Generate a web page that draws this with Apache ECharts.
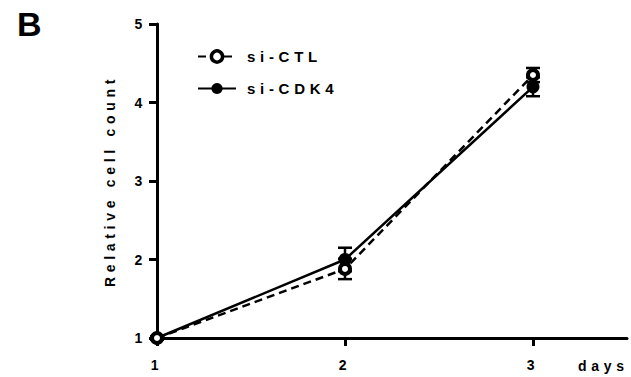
<!DOCTYPE html>
<html><head><meta charset="utf-8">
<script src="https://cdn.jsdelivr.net/npm/echarts@6/dist/echarts.min.js"></script>
<style>
html,body{margin:0;padding:0;background:#fff}
#c{width:631px;height:377px}
#c text{letter-spacing:4.7px}
</style>
</head><body><div id="c"></div>
<script>
// ---- data ----
const days = [1, 2, 3];
const xTicks = [1, 2, 3];
const yTicks = [1, 2, 3, 4, 5];
const ctlMean = [1.0, 1.88, 4.35];
const ctlErr  = [0.02, 0.13, 0.09];
const cdkMean = [1.0, 2.0, 4.2];
const cdkErr  = [0.02, 0.15, 0.12];
const seriesNames = ['si-CTL', 'si-CDK4'];

const FONT = 'Liberation Sans, Arial, sans-serif';
const chart = echarts.init(document.getElementById('c'), null, {renderer: 'svg'});

function errRender(params, api) {
  const x = api.value(0), m = api.value(1), e = api.value(2);
  const hi = api.coord([x, m + e]), lo = api.coord([x, m - e]);
  const w = 7;
  const st = {stroke: '#000', lineWidth: 2.5};
  return {type: 'group', children: [
    {type: 'line', shape: {x1: hi[0], y1: hi[1], x2: lo[0], y2: lo[1]}, style: st},
    {type: 'line', shape: {x1: hi[0] - w, y1: hi[1], x2: hi[0] + w, y2: hi[1]}, style: st},
    {type: 'line', shape: {x1: lo[0] - w, y1: lo[1], x2: lo[0] + w, y2: lo[1]}, style: st}
  ]};
}

chart.setOption({
  animation: false,
  backgroundColor: '#fff',
  grid: {left: 157, right: 4, top: 24, bottom: 39, containLabel: false},
  legend: {
    orient: 'vertical', left: 192, top: 44,
    itemWidth: 38, itemHeight: 14, itemGap: 17,
    data: [
      {name: seriesNames[0], itemStyle: {color: '#fff', borderColor: '#000', borderWidth: 3.5}},
      {name: seriesNames[1]}
    ],
    textStyle: {fontSize: 15, fontWeight: 'bold', fontFamily: FONT, color: '#000', padding: [0, 0, 0, 6]}
  },
  graphic: [
    {type: 'text', left: 17, top: 7, style: {text: 'B', font: 'bold 34px ' + FONT, fill: '#000'}},
    {type: 'text', left: 578, top: 359, style: {text: 'days', font: 'bold 14px ' + FONT, fill: '#000'}}
  ],
  xAxis: {
    type: 'value', min: 1, max: 3.5,
    axisLine: {show: true, lineStyle: {color: '#000', width: 3}},
    axisTick: {show: true, length: 8, lineStyle: {color: '#000', width: 3}, customValues: xTicks},
    axisLabel: {customValues: xTicks, margin: 20, fontSize: 14, fontWeight: 'bold', fontFamily: FONT, color: '#000'},
    splitLine: {show: false}
  },
  yAxis: {
    type: 'value', min: 1, max: 5, interval: 1,
    name: 'Relative cell count', nameLocation: 'middle', nameGap: 40, nameRotate: 90,
    nameTextStyle: {fontSize: 14, fontWeight: 'bold', fontFamily: FONT, color: '#000'},
    axisLine: {show: true, lineStyle: {color: '#000', width: 3}},
    axisTick: {show: true, length: 8, lineStyle: {color: '#000', width: 3}},
    axisLabel: {customValues: yTicks, margin: 10, fontSize: 14, fontWeight: 'bold', fontFamily: FONT, color: '#000'},
    splitLine: {show: false}
  },
  series: [
    {type: 'custom', name: 'si-CDK4 err', renderItem: errRender, z: 1,
     data: days.map((d, i) => [d, cdkMean[i], cdkErr[i]])},
    {type: 'custom', name: 'si-CTL err', renderItem: errRender, z: 1,
     data: days.map((d, i) => [d, ctlMean[i], ctlErr[i]])},
    {type: 'line', name: 'si-CDK4', z: 3,
     data: days.map((d, i) => [d, cdkMean[i]]),
     symbol: 'circle', symbolSize: 13,
     lineStyle: {color: '#000', width: 2.5, type: 'solid'},
     itemStyle: {color: '#000', borderColor: '#000', borderWidth: 0}},
    {type: 'line', name: 'si-CTL', z: 4,
     data: days.map((d, i) => [d, ctlMean[i]]),
     symbol: 'circle', symbolSize: 10,
     lineStyle: {color: '#000', width: 2.5, type: [8, 5]},
     itemStyle: {color: '#fff', borderColor: '#000', borderWidth: 4}}
  ]
});
</script>
</body></html>
